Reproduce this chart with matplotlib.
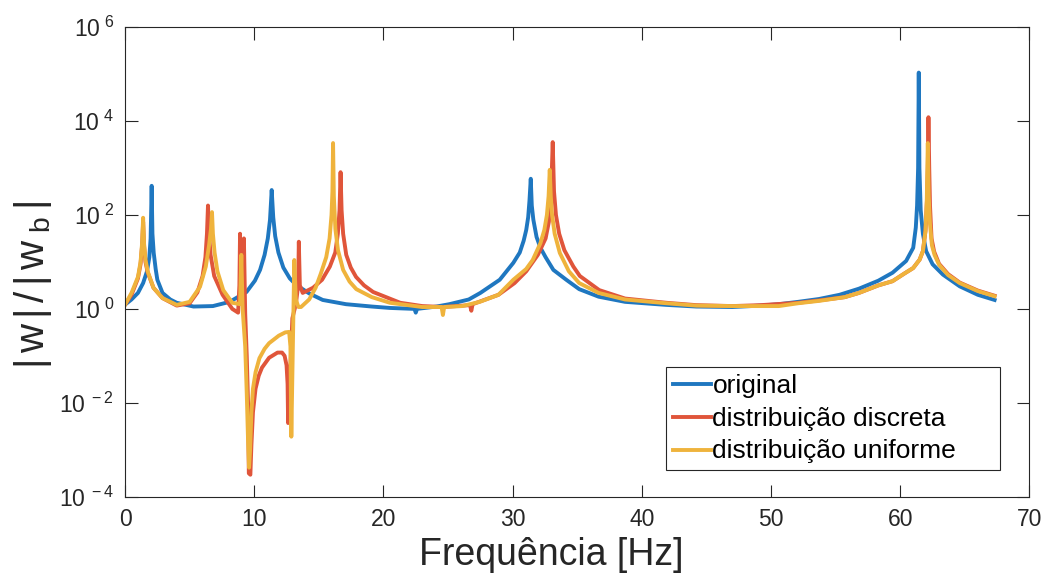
import numpy as np
import matplotlib
matplotlib.use('Agg')
import matplotlib.pyplot as plt

plt.rcParams['font.family'] = ['Liberation Sans', 'DejaVu Sans']
plt.rcParams['mathtext.fontset'] = 'custom'
plt.rcParams['mathtext.rm'] = 'Liberation Sans'
plt.rcParams['mathtext.it'] = 'Liberation Sans'

# frequencias [Hz] e log10(|w|/|wb|)
f_orig = [0.0, 0.5, 1.0, 1.4, 1.7, 1.88, 1.98, 2.06, 2.12, 2.22, 2.37, 2.5, 2.9, 3.5, 4.0,
          5.3, 6.8, 8.1, 9.4, 10.05, 10.45, 10.8, 11.05, 11.22, 11.35, 11.47, 11.62, 11.87,
          12.25, 12.75, 13.25, 14.25, 15.3, 17.1, 19.1, 20.5, 22.4, 22.5, 22.6, 24.1, 25.1,
          26.6, 27.5, 29.0, 30.05, 30.55, 30.85, 31.05, 31.2, 31.3, 31.4, 31.48, 31.6,
          31.85, 32.15, 32.55, 33.15, 34.15, 35.15, 36.65, 38.7, 41.9, 44.2, 47.0, 49.2,
          50.6, 52.1, 53.7, 55.3, 56.8, 58.3, 59.4, 60.45, 61.0, 61.2, 61.3, 61.38, 61.43,
          61.48, 61.58, 61.75, 62.0, 62.5, 63.3, 64.6, 66.0, 67.3]
lg_orig = [0.09, 0.2, 0.34, 0.55, 0.8, 1.1, 1.5, 2.62, 1.6, 1.19, 0.85, 0.62, 0.34, 0.2,
           0.13, 0.05, 0.06, 0.15, 0.36, 0.6, 0.83, 1.15, 1.5, 1.9, 2.53, 1.95, 1.55, 1.2,
           0.88, 0.65, 0.51, 0.33, 0.19, 0.1, 0.05, 0.02, 0.0, -0.08, 0.0, 0.05, 0.1, 0.2,
           0.34, 0.62, 0.98, 1.2, 1.45, 1.68, 1.95, 2.3, 2.77, 2.2, 1.9, 1.53, 1.3, 1.1,
           0.83, 0.62, 0.42, 0.26, 0.15, 0.085, 0.05, 0.04, 0.07, 0.1, 0.15, 0.21, 0.3,
           0.43, 0.6, 0.77, 1.02, 1.3, 1.73, 2.2, 3.0, 5.03, 3.0, 2.1, 1.6, 1.23, 0.95,
           0.73, 0.48, 0.3, 0.19]

f_disc = [0.0, 0.5, 1.0, 1.2, 1.32, 1.4, 1.47, 1.58, 1.75, 2.2, 2.9, 4.0, 5.0, 5.6, 6.0,
          6.22, 6.34, 6.42, 6.5, 6.62, 6.9, 7.55, 8.3, 8.75, 8.85, 8.9, 8.95, 9.1, 9.2, 9.3,
          9.42, 9.52, 9.58, 9.7, 9.78, 9.9, 10.1, 10.35, 10.6, 11.15, 11.8, 12.15, 12.35,
          12.5, 12.58, 12.62, 12.95, 13.22, 13.4, 13.45, 13.53, 13.75, 14.55, 15.25, 15.85,
          16.27, 16.47, 16.6, 16.68, 16.76, 16.88, 17.12, 17.47, 17.88, 18.5, 19.2, 21.3,
          23.0, 24.6, 26.7, 26.8, 26.9, 28.9, 30.15, 31.05, 31.95, 32.55, 32.8, 32.97,
          33.1, 33.2, 33.35, 33.6, 34.0, 34.7, 35.2, 36.7, 38.7, 41.9, 44.2, 47.0, 49.2,
          52.1, 53.7, 55.7, 56.8, 58.3, 59.4, 60.3, 61.0, 61.5, 61.75, 61.95, 62.06, 62.13,
          62.18, 62.24, 62.3, 62.42, 62.62, 63.0, 63.7, 64.6, 66.0, 67.3]
lg_disc = [0.09, 0.3, 0.65, 0.95, 1.35, 1.85, 1.35, 1.0, 0.78, 0.45, 0.23, 0.07, 0.12,
           0.35, 0.7, 1.1, 1.6, 2.2, 1.6, 1.15, 0.7, 0.3, 0.0, -0.08, 0.5, 1.6, 0.5, 0.3,
           1.5, -0.1, -1.0, -2.0, -3.5, -3.53, -2.9, -2.2, -1.7, -1.42, -1.25, -1.04,
           -0.93, -0.93, -1.0, -1.2, -1.6, -2.43, -0.2, 0.1, 0.5, 1.43, 0.5, 0.34, 0.45,
           0.62, 0.9, 1.2, 1.6, 2.1, 2.91, 2.1, 1.6, 1.15, 0.88, 0.68, 0.5, 0.36, 0.13,
           0.06, 0.04, 0.08, -0.04, 0.1, 0.3, 0.55, 0.8, 1.15, 1.5, 1.85, 2.4, 3.55, 2.5,
           2.0, 1.6, 1.25, 0.9, 0.7, 0.4, 0.22, 0.13, 0.08, 0.06, 0.08, 0.13, 0.18, 0.25,
           0.34, 0.5, 0.59, 0.75, 0.87, 1.05, 1.23, 1.66, 2.3, 3.0, 4.08, 3.0, 2.2, 1.5,
           1.22, 0.96, 0.74, 0.56, 0.39, 0.28]

f_unif = [0.0, 0.5, 1.0, 1.2, 1.32, 1.4, 1.47, 1.58, 1.75, 2.2, 2.9, 4.0, 5.0, 5.8, 6.25,
          6.5, 6.65, 6.73, 6.8, 6.93, 7.15, 7.6, 8.3, 8.9, 9.0, 9.1, 9.3, 9.42, 9.52, 9.6,
          9.68, 9.78, 9.9, 10.1, 10.4, 10.8, 11.15, 11.9, 12.4, 12.7, 12.8, 12.87, 13.1,
          13.22, 13.42, 13.62, 14.25, 14.75, 15.15, 15.57, 15.83, 15.98, 16.05, 16.1, 16.16,
          16.28, 16.48, 16.88, 17.38, 17.9, 19.1, 20.5, 23.0, 24.5, 24.6, 24.7, 26.1, 27.45,
          28.9, 30.05, 31.05, 31.55, 32.15, 32.45, 32.65, 32.78, 32.87, 32.95, 33.05, 33.25,
          33.65, 34.35, 35.15, 36.65, 38.7, 41.9, 44.2, 47.0, 49.2, 50.6, 52.1, 53.7, 55.7,
          56.8, 58.3, 59.4, 60.3, 61.0, 61.5, 61.75, 61.95, 62.05, 62.13, 62.2, 62.3,
          62.45, 62.65, 63.0, 63.7, 64.6, 66.0, 67.3]
lg_unif = [0.09, 0.34, 0.68, 1.0, 1.4, 1.94, 1.4, 1.05, 0.8, 0.45, 0.23, 0.085, 0.15,
           0.47, 0.9, 1.35, 1.7, 2.06, 1.6, 1.2, 0.8, 0.4, 0.13, 0.1, 1.15, 0.0, -0.8,
           -1.8, -2.8, -3.38, -3.0, -2.2, -1.7, -1.35, -1.05, -0.85, -0.73, -0.57, -0.5,
           -0.49, -0.8, -2.72, 1.04, 0.2, 0.04, 0.04, 0.2, 0.45, 0.75, 1.1, 1.5, 2.0, 2.5,
           3.53, 2.4, 1.7, 1.25, 0.83, 0.58, 0.42, 0.25, 0.13, 0.04, 0.04, -0.13, 0.04,
           0.06, 0.15, 0.3, 0.62, 0.85, 1.04, 1.4, 1.68, 2.0, 2.4, 2.96, 2.4, 2.0, 1.6,
           1.19, 0.8, 0.55, 0.34, 0.2, 0.12, 0.07, 0.06, 0.06, 0.06, 0.12, 0.17, 0.25,
           0.34, 0.5, 0.59, 0.75, 0.87, 1.05, 1.23, 1.66, 2.3, 3.53, 2.4, 1.8, 1.35, 1.15,
           0.94, 0.72, 0.55, 0.38, 0.27]

labels = ['original', 'distribuição discreta', 'distribuição uniforme     ']
cores = ['#1f77c0', '#e0553a', '#efb33c']
xticks = [0, 10, 20, 30, 40, 50, 60, 70]
yexp = [-4, -2, 0, 2, 4, 6]

fig = plt.figure(figsize=(10.42, 5.75), dpi=100)
ax = fig.add_axes([0.12, 0.136, 0.868, 0.817])

series = [(f_orig, lg_orig), (f_disc, lg_disc), (f_unif, lg_unif)]
for (f, lg), lab, c in zip(series, labels, cores):
    ax.plot(f, 10.0 ** np.array(lg), color=c, lw=2.8, label=lab)

ax.set_yscale('log')
ax.set_xlim(0, 70)
ax.set_ylim(1e-4, 1e6)
ax.set_xticks(xticks)
ax.set_xticklabels([str(t) for t in xticks])
ax.set_yticks([10.0 ** e for e in yexp])
ax.set_yticklabels([r'$\mathregular{10^{\ %d}}$' % e for e in yexp])
ax.minorticks_off()
ax.tick_params(direction='in', length=9, width=0.8, labelsize=16.5, top=True, right=True,
               colors='#262626', pad=8)
for s in ax.spines.values():
    s.set_color('#262626')
    s.set_linewidth(0.8)

ax.set_xlabel('Frequência [Hz]', fontsize=27, color='#262626')
ax.xaxis.set_label_coords(0.471, -0.085)
ax.set_ylabel(r'$\mathregular{|\,w\,|\,/\,|\,w_{\ b}\,|}$', fontsize=29, color='#262626')
ax.yaxis.set_label_coords(-0.079, 0.45)

leg = ax.legend(loc='lower right', bbox_to_anchor=(0.967, 0.057), fontsize=19,
                handlelength=1.45, handletextpad=0.05, borderpad=0.25, labelspacing=0.33,
                borderaxespad=0, fancybox=False, framealpha=1, handleheight=0.6)
leg.get_frame().set_edgecolor('#262626')
leg.get_frame().set_linewidth(0.8)

fig.savefig('out.png', dpi=100)
